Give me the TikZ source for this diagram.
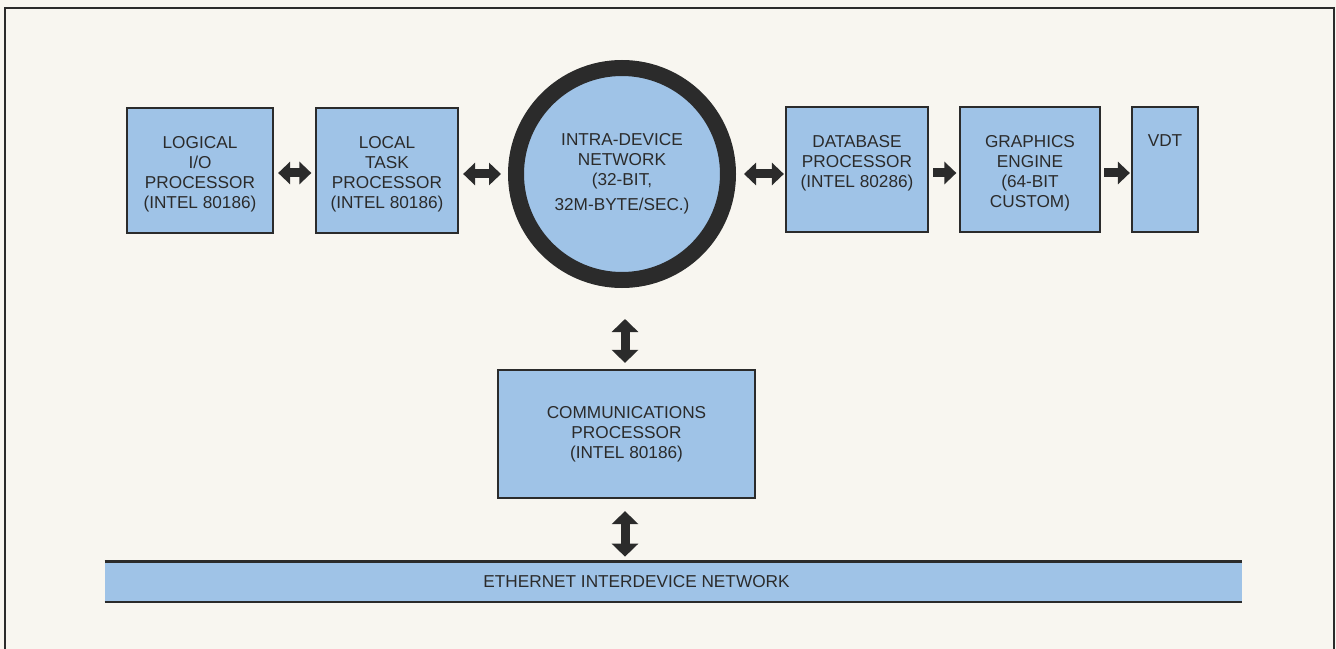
\documentclass[tikz,border=0pt]{standalone}
\usepackage{fontspec}
\setmainfont{Liberation Sans}
\usepackage{tikz}
\usetikzlibrary{arrows.meta, positioning}
\definecolor{procblue}{HTML}{9FC3E7}
\definecolor{inkgray}{HTML}{2B2B2B}
\definecolor{paper}{HTML}{F8F6F0}
\newcommand{\toplines}[2]{\parbox[c][24mm][t]{#1}{\centering\vskip5.1mm #2}}
\tikzset{
  boxfont/.style={font=\fontsize{9.8}{11.4}\selectfont,text=inkgray},
  procbox/.style={draw=inkgray,fill=procblue,line width=0.45mm,inner sep=0pt,
    minimum height=25mm,align=center,boxfont},
  netnode/.style={circle,draw=inkgray,fill=procblue,line width=3.2mm,
    minimum size=42.4mm,inner sep=0pt,align=center,boxfont},
  ethband/.style={fill=procblue,inner sep=0pt,minimum width=227.4mm,
    minimum height=8mm,boxfont},
  dblarrow/.style={{Triangle[length=2.4mm,width=4.4mm]}-{Triangle[length=2.4mm,width=4.4mm]},
    line width=1.8mm,draw=inkgray,shorten <=0.8mm,shorten >=0.7mm},
  fwdarrow/.style={-{Triangle[length=2.4mm,width=4.4mm]},
    line width=1.8mm,draw=inkgray,shorten <=0.8mm,shorten >=0.5mm},
  vdblarrow/.style={{Triangle[length=2.6mm,width=5.2mm]}-{Triangle[length=2.6mm,width=5.2mm]},
    line width=1.8mm,draw=inkgray},
}

\begin{document}
\begin{tikzpicture}[x=0.2mm,y=-0.2mm]
  \fill[paper] (0,0) rectangle (1336,649);
  \useasboundingbox (0,0) rectangle (1336,649);
  \draw[inkgray,line width=0.5mm] (5,649) -- (5,8) -- (1334,8) -- (1334,649);

  \node[procbox,minimum width=29.2mm] (nLog) at (200,170.5)
    {\toplines{28mm}{LOGICAL\\I/O\\PROCESSOR\\(INTEL 80186)}};
  \node[procbox,minimum width=28.4mm] (nTask) at (387,170.5)
    {\toplines{27mm}{LOCAL\\TASK\\PROCESSOR\\(INTEL 80186)}};
  \node[netnode] (nNet) at (622,174)
    {INTRA-DEVICE\\NETWORK\\(32-BIT,\\[1mm]32M-BYTE/SEC.)};
  \node[procbox,minimum width=28.4mm] (nDB) at (857,169.5)
    {\toplines{27mm}{DATABASE\\PROCESSOR\\(INTEL 80286)}};
  \node[procbox,minimum width=28mm] (nGfx) at (1030,169.5)
    {\toplines{27mm}{GRAPHICS\\ENGINE\\(64-BIT\\CUSTOM)}};
  \node[procbox,minimum width=13.2mm] (nVDT) at (1165,169.5)
    {\toplines{12mm}{VDT}};
  \node[procbox,minimum width=51.4mm,minimum height=25.6mm] (nComm) at (626.5,434)
    {COMMUNICATIONS\\PROCESSOR\\(INTEL 80186)};
  \node[ethband] (nEth) at (673.5,582)
    {\hspace*{-14.8mm}ETHERNET INTERDEVICE NETWORK};
  \draw[inkgray,line width=0.6mm] (nEth.north west) -- (nEth.north east);
  \draw[inkgray,line width=0.45mm] (nEth.south west) -- (nEth.south east);

  \draw[dblarrow] (nLog.east |- 0,173) -- (nTask.west |- 0,173);
  \draw[dblarrow,shorten >=1.4mm] (nTask.east |- nNet) -- (nNet.west);
  \draw[dblarrow,shorten <=1.6mm,shorten >=0.2mm] (nNet.east) -- (nDB.west |- nNet);
  \draw[fwdarrow] (nDB.east |- 0,173) -- (nGfx.west |- 0,173);
  \draw[fwdarrow,shorten <=0.6mm,shorten >=0.2mm] (nGfx.east |- 0,173) -- (nVDT.west |- 0,173);
  \draw[vdblarrow,shorten <=6.2mm,shorten >=1.2mm] (nNet.south -| 625,0) -- (nComm.north -| 625,0);
  \draw[vdblarrow,shorten <=2.4mm,shorten >=1mm] (nComm.south -| 625,0) -- (nEth.north -| 625,0);
\end{tikzpicture}
\end{document}
